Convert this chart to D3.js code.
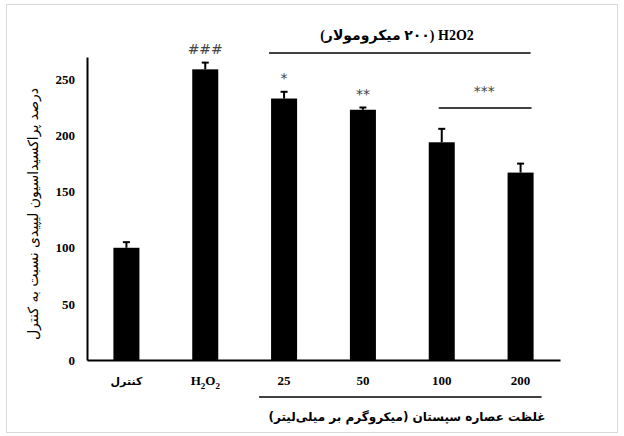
<!DOCTYPE html>
<meta charset="utf-8">
<style>
body { margin: 0; background: #fff; }
.num { font-family: 'Liberation Serif', 'Times New Roman', serif; font-weight: bold; font-size: 13px; }
.fa { font-family: 'DejaVu Sans', sans-serif; }
</style>
<body>
<svg class="chart"></svg>
<script src="https://d3js.org/d3.v7.min.js"></script>
<script>
// chart size
let rwidth = 624, rheight = 436;

// data
let categories = ['control', 'h2o2', '25', '50', '100', '200'];
let catLabels = ['کنترل', 'H2O2', '25', '50', '100', '200'];
let means = [100, 259, 233, 223, 194, 167];
let errors = [5, 6, 6, 2, 12, 8];
let marks = ['', '###', '*', '**', '', ''];
let yTicks = [0, 50, 100, 150, 200, 250];

let yTitle = 'درصد پراکسیداسیون لیپیدی نسبت به کنترل';
let xTitle = 'غلظت عصاره سپستان (میکروگرم بر میلی‌لیتر)';
let topTitle = 'H2O2 (۲۰۰ میکرومولار)';

let svg = d3.select('.chart').attr('width', rwidth).attr('height', rheight);

// light frame round the whole figure
svg.append('rect')
   .attr('x', 6.5).attr('y', 4.5)
   .attr('width', 611).attr('height', 428)
   .style('fill', 'none').style('stroke', '#d9d9d9');

let xscale = d3.scaleBand().domain(categories).range([87, 560])
               .paddingInner(0.67).paddingOuter(0.335);
let yscale = d3.scaleLinear().domain([0, 270]).range([360, 57]);

// axes (no tick marks)
let yaxis = svg.append('g').attr('transform', 'translate(87,0)')
   .call(d3.axisLeft(yscale).tickValues(yTicks).tickSize(0).tickPadding(12));
yaxis.select('.domain').attr('stroke', '#000').attr('stroke-width', 2);
yaxis.selectAll('text').attr('class', 'num').attr('fill', '#000');

let xaxis = svg.append('g').attr('transform', 'translate(0,360)')
   .call(d3.axisBottom(xscale).tickSize(0).tickFormat(''));
xaxis.select('.domain').attr('stroke', '#000').attr('stroke-width', 2);

// bars
svg.selectAll('.bar')
   .data(categories)
   .join('rect')
   .attr('class', 'bar')
   .attr('x', d => xscale(d))
   .attr('width', xscale.bandwidth())
   .attr('y', (d, i) => yscale(means[i]))
   .attr('height', (d, i) => yscale(0) - yscale(means[i]))
   .style('fill', '#000');

// error bars
let cx = d => xscale(d) + xscale.bandwidth() / 2;
svg.selectAll('.err')
   .data(categories)
   .join('line')
   .attr('x1', cx).attr('x2', cx)
   .attr('y1', (d, i) => yscale(means[i]))
   .attr('y2', (d, i) => yscale(means[i] + errors[i]))
   .style('stroke', '#000').style('stroke-width', 2);
svg.selectAll('.cap')
   .data(categories)
   .join('line')
   .attr('x1', d => cx(d) - 3.5).attr('x2', d => cx(d) + 3.5)
   .attr('y1', (d, i) => yscale(means[i] + errors[i]))
   .attr('y2', (d, i) => yscale(means[i] + errors[i]))
   .style('stroke', '#000').style('stroke-width', 2);

// significance marks above bars
svg.selectAll('.sig')
   .data(categories)
   .join('text')
   .attr('x', cx)
   .attr('y', (d, i) => yscale(means[i] + errors[i]) - 9)
   .attr('text-anchor', 'middle')
   .style('font-family', 'DejaVu Sans, sans-serif')
   .style('font-size', '14px')
   .style('fill', '#444')
   .text((d, i) => marks[i]);

// category labels
svg.selectAll('.xlab')
   .data(categories)
   .join('text')
   .attr('class', (d, i) => i == 0 ? 'fa' : 'num')
   .attr('x', cx)
   .attr('y', 385)
   .attr('text-anchor', 'middle')
   .style('font-weight', 'bold')
   .style('font-size', (d, i) => i == 0 ? '11px' : '13px')
   .each(function(d, i) {
       let t = d3.select(this);
       if (d == 'h2o2') {
           t.append('tspan').text('H');
           t.append('tspan').text('2').attr('dy', 4).style('font-size', '9px');
           t.append('tspan').text('O').attr('dy', -4);
           t.append('tspan').text('2').attr('dy', 4).style('font-size', '9px');
       } else {
           t.text(catLabels[i]);
       }
   });

// H2O2 group line and title
svg.append('line')
   .attr('x1', xscale('25') - 2).attr('x2', xscale('200') + xscale.bandwidth() - 3)
   .attr('y1', 53).attr('y2', 53)
   .style('stroke', '#000').style('stroke-width', 1.5);
svg.append('text')
   .attr('x', 397).attr('y', 40)
   .attr('text-anchor', 'middle')
   .attr('direction', 'rtl')
   .style('font-family', 'Liberation Serif, DejaVu Sans, serif')
   .style('font-weight', 'bold')
   .style('font-size', '14px')
   .text(topTitle);

// *** over the two highest doses
svg.append('line')
   .attr('x1', cx('100') - 3).attr('x2', cx('200') + 11)
   .attr('y1', 108).attr('y2', 108)
   .style('stroke', '#000').style('stroke-width', 1.5);
svg.append('text')
   .attr('x', (cx('100') + cx('200')) / 2 + 3).attr('y', 96)
   .attr('text-anchor', 'middle')
   .style('font-family', 'DejaVu Sans, sans-serif')
   .style('font-size', '14px')
   .style('fill', '#444')
   .text('***');

// concentration line and label
svg.append('line')
   .attr('x1', xscale('25') - 12).attr('x2', xscale('200') + xscale.bandwidth() + 8)
   .attr('y1', 397).attr('y2', 397)
   .style('stroke', '#000').style('stroke-width', 1.5);
svg.append('text')
   .attr('x', 407).attr('y', 421)
   .attr('text-anchor', 'middle')
   .attr('direction', 'rtl')
   .attr('class', 'fa')
   .style('font-weight', 'bold')
   .style('font-size', '12px')
   .text(xTitle);

// y axis title
svg.append('text')
   .attr('transform', 'translate(38,214) rotate(-90)')
   .attr('text-anchor', 'middle')
   .attr('direction', 'rtl')
   .attr('class', 'fa')
   .style('font-size', '14px')
   .text(yTitle);
</script>
</body>
